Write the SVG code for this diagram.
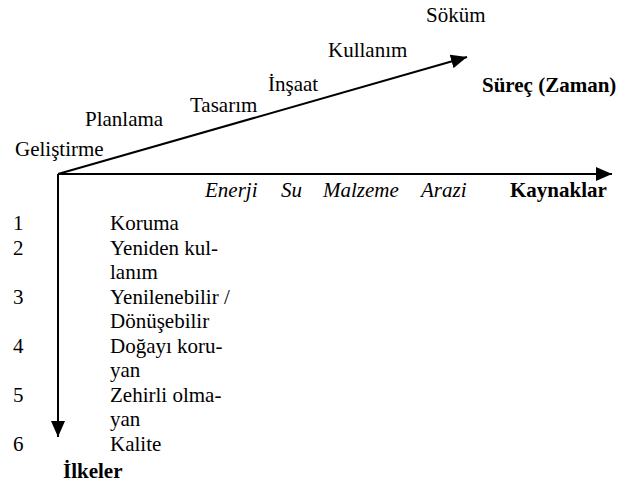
<svg xmlns="http://www.w3.org/2000/svg" width="629" height="484" viewBox="0 0 629 484">
<style>
text{font-family:'Liberation Serif','Times New Roman',serif;font-size:21px;fill:#000}
.b{font-weight:bold}
.i{font-style:italic}
.ax{stroke:#000;stroke-width:2;fill:none}
</style>
<defs>
<marker id="ah" viewBox="0 0 16 14" refX="16" refY="7" markerWidth="16" markerHeight="14" markerUnits="userSpaceOnUse" orient="auto">
<path d="M0,0 L16,7 L0,14 Z" fill="#000"/>
</marker>
</defs>
<rect width="629" height="484" fill="#fff"/>
<g id="connectors">
<line class="ax" x1="58" y1="174" x2="467" y2="57" marker-end="url(#ah)"/>
<line class="ax" x1="58" y1="174" x2="612" y2="174" marker-end="url(#ah)"/>
<line class="ax" x1="58" y1="174" x2="58" y2="437" marker-end="url(#ah)"/>
</g>
<g id="process">
<text x="15" y="156">Geliştirme</text>
<text x="85" y="126">Planlama</text>
<text x="190" y="112">Tasarım</text>
<text x="268" y="91">İnşaat</text>
<text x="328" y="57">Kullanım</text>
<text x="426" y="22">Söküm</text>
<text class="b" x="482" y="92">Süreç (Zaman)</text>
</g>
<g id="resources">
<text class="i" x="205" y="197">Enerji</text>
<text class="i" x="281" y="197">Su</text>
<text class="i" x="323" y="197">Malzeme</text>
<text class="i" x="421" y="197">Arazi</text>
<text class="b" x="510" y="197">Kaynaklar</text>
</g>
<g id="principles">
<text x="13" y="230">1</text>
<text x="110" y="230">Koruma</text>
<text x="13" y="254.5">2</text>
<text x="110" y="254.5">Yeniden kul-</text>
<text x="110" y="279">lanım</text>
<text x="13" y="303.5">3</text>
<text x="110" y="303.5">Yenilenebilir /</text>
<text x="110" y="328">Dönüşebilir</text>
<text x="13" y="352.5">4</text>
<text x="110" y="352.5">Doğayı koru-</text>
<text x="110" y="377">yan</text>
<text x="13" y="401.5">5</text>
<text x="110" y="401.5">Zehirli olma-</text>
<text x="110" y="426">yan</text>
<text x="13" y="450.5">6</text>
<text x="110" y="450.5">Kalite</text>
<text class="b" x="63" y="478">İlkeler</text>
</g>
</svg>
